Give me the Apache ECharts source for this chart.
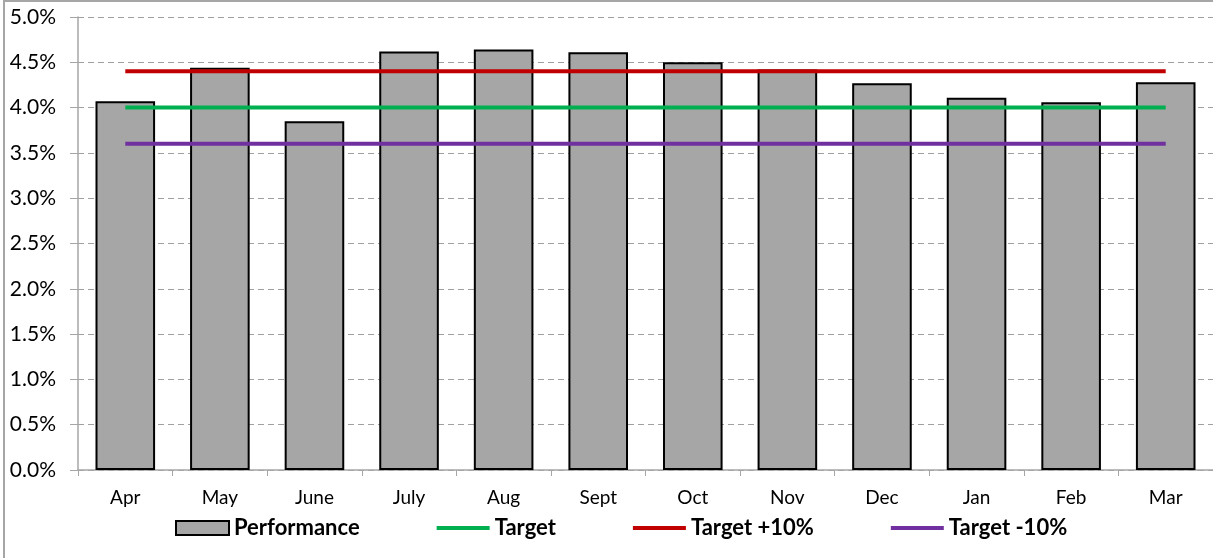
<!DOCTYPE html>
<html>
<head>
	<meta charset="utf-8">
	<title></title>
	<script src="https://cdn.jsdelivr.net/npm/echarts@6/dist/echarts.min.js"></script>
	<style>
		body { margin: 0; background: #fff; }
		#box_1 { width: 1213px; height: 558px; }
		.frame { position: absolute; left: 3px; top: 0; width: 1230px; height: 600px; border: 2px solid #a6a6a6; pointer-events: none; }
	</style>
</head>
<body>
	<div id="box_1"></div>
	<div class="frame"></div>
<script>
	var months = ['Apr','May','June','July','Aug','Sept','Oct','Nov','Dec','Jan','Feb','Mar']
	var performance = [4.07, 4.44, 3.85, 4.62, 4.64, 4.61, 4.50, 4.42, 4.27, 4.11, 4.06, 4.28]
	var target = [4.0, 4.0, 4.0, 4.0, 4.0, 4.0, 4.0, 4.0, 4.0, 4.0, 4.0, 4.0]
	var targetUp = [4.4, 4.4, 4.4, 4.4, 4.4, 4.4, 4.4, 4.4, 4.4, 4.4, 4.4, 4.4]
	var targetDown = [3.6, 3.6, 3.6, 3.6, 3.6, 3.6, 3.6, 3.6, 3.6, 3.6, 3.6, 3.6]

	var font = 'Lato, "Open Sans", sans-serif'
	var lineIcon = 'path://M0,0 H52 V4 H0 Z'
	var myChart = echarts.init(document.getElementById('box_1'));

	function lineSeries(name, data, color) {
		return {
			name: name,
			type: 'line',
			data: data,
			symbol: 'none',
			lineStyle: { color: color, width: 4 },
			itemStyle: { color: color },
			z: 3
		}
	}

	var option = {
		animation: false,
		textStyle: { fontFamily: font },
		legend: {
			bottom: 14,
			left: 170,
			itemGap: 77,
			itemWidth: 53,
			itemHeight: 14,
			textStyle: { fontSize: 22, fontWeight: 'bold', color: '#000', fontFamily: font },
			data: [
				{ name: 'Performance', icon: 'rect' },
				{ name: 'Target', icon: lineIcon },
				{ name: 'Target +10%', icon: lineIcon },
				{ name: 'Target -10%', icon: lineIcon }
			]
		},
		grid: {
			left: 78,
			top: 17,
			width: 1138,
			height: 453
		},
		xAxis: {
			type: 'category',
			data: months,
			axisLine: { lineStyle: { color: '#a6a6a6', width: 1.5 } },
			axisTick: { show: true, length: 6, lineStyle: { color: '#a6a6a6' } },
			axisLabel: { color: '#000', fontSize: 19, margin: 18, fontFamily: font }
		},
		yAxis: {
			type: 'value',
			min: 0,
			max: 5,
			interval: 0.5,
			axisLine: { show: true, lineStyle: { color: '#a6a6a6', width: 1.5 } },
			axisTick: { show: true, length: 8, lineStyle: { color: '#a6a6a6' } },
			axisLabel: {
				color: '#000',
				fontSize: 21,
				margin: 22,
				fontFamily: font,
				formatter: function(v) { return v.toFixed(1) + '%' }
			},
			splitLine: { show: true, lineStyle: { color: '#a0a0a0', type: [6, 4], width: 1 } }
		},
		series: [
			{
				name: 'Performance',
				type: 'bar',
				data: performance,
				barCategoryGap: '37%',
				itemStyle: { color: '#a6a6a6', borderColor: '#000', borderWidth: 2 }
			},
			lineSeries('Target', target, '#00b050'),
			lineSeries('Target +10%', targetUp, '#c00000'),
			lineSeries('Target -10%', targetDown, '#7030a0')
		]
	}
	myChart.setOption(option);
</script>
</body>
</html>
